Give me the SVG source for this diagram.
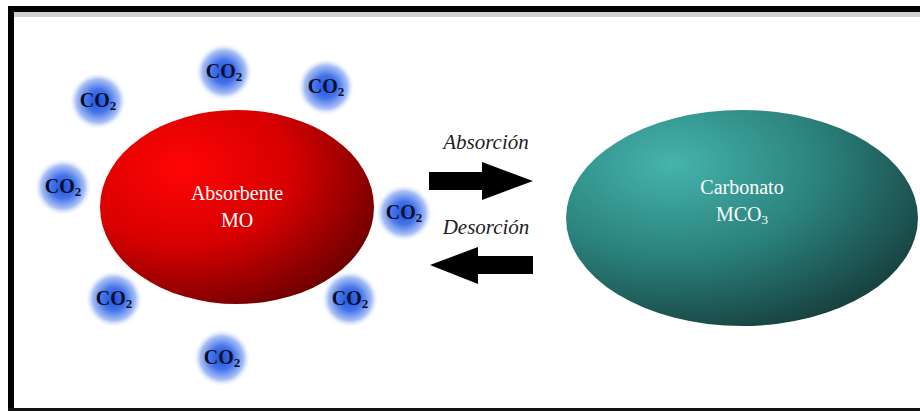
<svg xmlns="http://www.w3.org/2000/svg" width="920" height="411" viewBox="0 0 920 411">
<style>
.co2{font-family:"Liberation Serif",serif;font-weight:bold;font-size:20px;fill:#0a0f2a;text-anchor:middle}
.sub{font-size:13px}
.lbl{font-family:"Liberation Serif",serif;font-size:20px;fill:#ffffff;text-anchor:middle}
.it{font-family:"Liberation Serif",serif;font-style:italic;font-size:21px;fill:#222;text-anchor:middle}
</style>
<defs>
<radialGradient id="bub" cx="0.5" cy="0.5" r="0.5">
<stop offset="0" stop-color="#1f52e2"/>
<stop offset="0.4" stop-color="#4474ea"/>
<stop offset="0.75" stop-color="#a9c0f5"/>
<stop offset="1" stop-color="#ffffff" stop-opacity="0"/>
</radialGradient>
<radialGradient id="red" cx="0.3" cy="0.3" r="0.8" fx="0.3" fy="0.3">
<stop offset="0" stop-color="#ff0505"/>
<stop offset="0.5" stop-color="#d60000"/>
<stop offset="1" stop-color="#6a0000"/>
</radialGradient>
<radialGradient id="teal" cx="0.3" cy="0.25" r="0.85" fx="0.3" fy="0.25">
<stop offset="0" stop-color="#45b4ac"/>
<stop offset="0.5" stop-color="#2b827d"/>
<stop offset="1" stop-color="#153c3a"/>
</radialGradient>
</defs>
<rect width="920" height="411" fill="#ffffff"/>
<g id="frame">
<rect x="14" y="12" width="906" height="5" fill="#d0d0d0"/>
<rect x="8" y="6" width="912" height="6" fill="#000"/>
<rect x="8" y="6" width="6" height="405" fill="#000"/>
<rect x="8" y="408" width="912" height="3" fill="#111"/>
</g>
<g id="absorbente">
<ellipse cx="237" cy="207" rx="137" ry="97" fill="url(#red)"/>
<text class="lbl" x="237" y="200">Absorbente</text>
<text class="lbl" x="237" y="227">MO</text>
</g>
<g id="carbonato">
<ellipse cx="742" cy="218" rx="176" ry="108" fill="url(#teal)"/>
<text class="lbl" x="742" y="194">Carbonato</text>
<text class="lbl" x="742" y="221">MCO<tspan class="sub" dy="3">3</tspan></text>
</g>
<g id="co2-1"><circle cx="98" cy="101" r="29" fill="url(#bub)"/><text class="co2" x="98" y="107">CO<tspan class="sub" dy="3">2</tspan></text></g>
<g id="co2-2"><circle cx="224" cy="72" r="29" fill="url(#bub)"/><text class="co2" x="224" y="78">CO<tspan class="sub" dy="3">2</tspan></text></g>
<g id="co2-3"><circle cx="326" cy="87" r="29" fill="url(#bub)"/><text class="co2" x="326" y="93">CO<tspan class="sub" dy="3">2</tspan></text></g>
<g id="co2-4"><circle cx="63" cy="187" r="29" fill="url(#bub)"/><text class="co2" x="63" y="193">CO<tspan class="sub" dy="3">2</tspan></text></g>
<g id="co2-5"><circle cx="404" cy="213" r="29" fill="url(#bub)"/><text class="co2" x="404" y="219">CO<tspan class="sub" dy="3">2</tspan></text></g>
<g id="co2-6"><circle cx="114" cy="299" r="29" fill="url(#bub)"/><text class="co2" x="114" y="305">CO<tspan class="sub" dy="3">2</tspan></text></g>
<g id="co2-7"><circle cx="350" cy="299" r="29" fill="url(#bub)"/><text class="co2" x="350" y="305">CO<tspan class="sub" dy="3">2</tspan></text></g>
<g id="co2-8"><circle cx="222" cy="358" r="29" fill="url(#bub)"/><text class="co2" x="222" y="364">CO<tspan class="sub" dy="3">2</tspan></text></g>
<g id="connectors">
<polygon points="429,172 482,172 482,162 533,181 482,200 482,190 429,190" fill="#000"/>
<polygon points="533,256 478,256 478,247 430,265 478,284 478,274 533,274" fill="#000"/>
<text class="it" x="486" y="149">Absorción</text>
<text class="it" x="486" y="234">Desorción</text>
</g>
</svg>
